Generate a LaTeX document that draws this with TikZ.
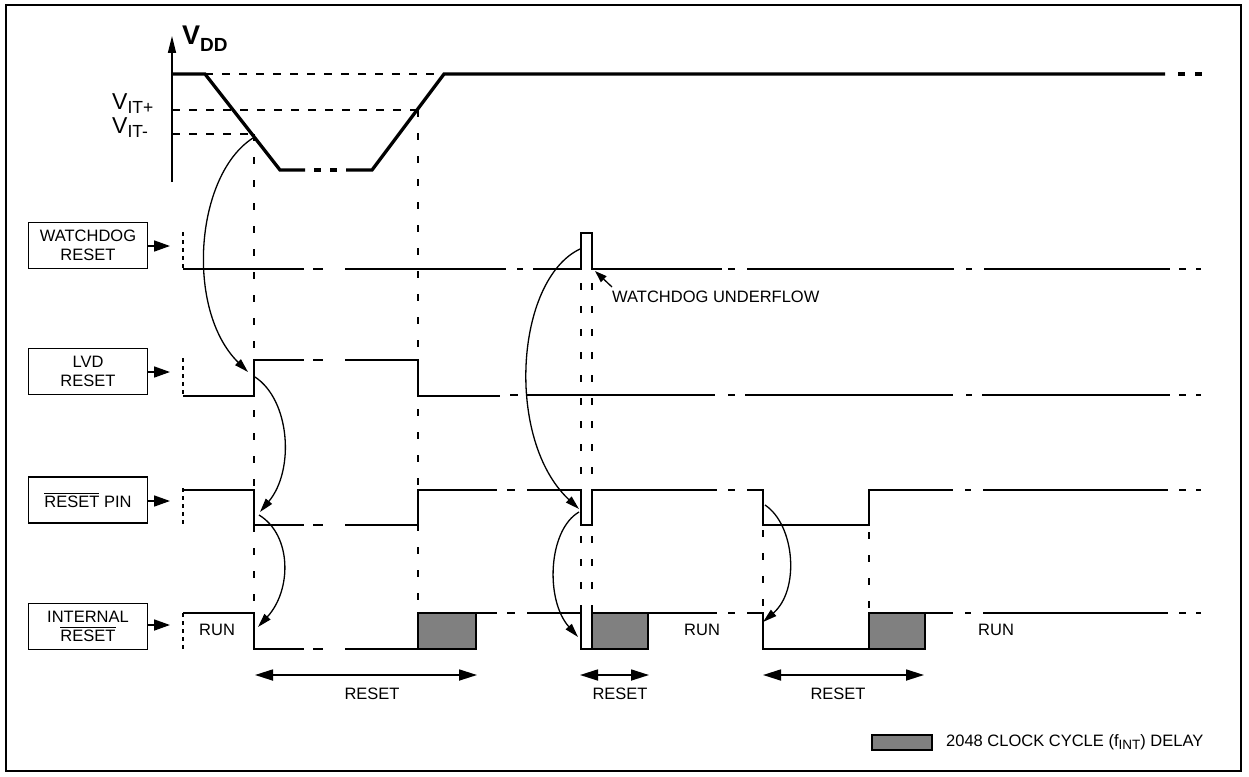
\documentclass[tikz,border=0pt]{standalone}
\usepackage{fontspec}
\setmainfont{Liberation Sans}
\usetikzlibrary{arrows.meta}
\newcommand{\ovlbar}[1]{\leavevmode\vbox{\hrule height 1pt\kern 2pt\hbox{#1}}}
\begin{document}
\begin{tikzpicture}[x=1pt,y=-1pt,
  sig/.style={line width=1.7pt},
  vddline/.style={line width=3.3pt},
  hdash/.style={line width=1.5pt, dash pattern=on 8pt off 9pt},
  vdashed/.style={line width=1.5pt, dash pattern=on 7pt off 16pt},
  dotv/.style={line width=1.4pt, dash pattern=on 3.5pt off 4.5pt},
  lbox/.style={draw, line width=1.7pt, minimum width=119pt, minimum height=46pt, align=center, inner sep=0pt, font=\fontsize{16.5}{18.5}\selectfont},
  inarrow/.style={line width=1.7pt, -{Triangle[length=16pt,width=11pt]}},
  curvearrow/.style={line width=1.3pt, -{Triangle[length=14pt,width=8pt]}},
  dimarrow/.style={line width=1.7pt, {Triangle[length=18pt,width=11pt]}-{Triangle[length=18pt,width=11pt]}},
  txt/.style={font=\fontsize{16.5}{18.5}\selectfont, inner sep=0pt},
  delay/.style={draw, line width=1.7pt, fill=gray},
]
\useasboundingbox (0,0) rectangle (1249,776);
\draw[line width=2pt] (6,5) rectangle (1241,771);

% ---------- VDD axis ----------
\coordinate (ax0) at (172,182);
\coordinate (ax1) at (172,36);
\draw[line width=1.6pt,-{Triangle[length=17pt,width=8pt]}] (ax0) -- (ax1);
\node[anchor=base west, inner sep=0pt] (vddlbl) at (182,45)
  {\fontsize{27}{27}\selectfont\bfseries V\raisebox{-7pt}{\fontsize{19}{19}\selectfont DD}};
\node[anchor=base west, inner sep=0pt] (vitp) at (112,109)
  {\fontsize{23}{23}\selectfont V\raisebox{-4pt}{\fontsize{17.5}{17.5}\selectfont IT+}};
\node[anchor=base west, inner sep=0pt] (vitm) at (112,133)
  {\fontsize{23}{23}\selectfont V\raisebox{-4pt}{\fontsize{17.5}{17.5}\selectfont IT-}};

\draw[hdash] (205,74) -- (444,74);
\draw[hdash] (172,110) -- (418,110);
\draw[hdash] (172,134) -- (254,134);

\draw[vddline, line join=miter] (172,74) -- (205,74) -- (280,170) -- (305,170);
\draw[vddline] (314,170) -- (321,170);
\draw[vddline] (330,170) -- (337,170);
\draw[vddline, line join=miter] (346,170) -- (372,170) -- (444,74) -- (1165,74);
\draw[vddline] (1178,74) -- (1185,74);
\draw[vddline] (1195,74) -- (1202,74);

% ---------- vertical dashed markers ----------
\draw[vdashed] (254,134) -- (254,613);
\draw[vdashed] (418,110) -- (418,613);
\draw[vdashed] (581,283) -- (581,613);
\draw[vdashed] (592,283) -- (592,613);
\draw[vdashed] (763,530) -- (763,613);
\draw[vdashed] (869,532) -- (869,613);

% ---------- label boxes ----------
\node[lbox] (wd) at (88,245.5) {WATCHDOG\\RESET};
\node[lbox] (lvd) at (88,371.5) {LVD\\RESET};
\node[lbox] (rp) at (88,500) {\ovlbar{RESET} PIN};
\node[lbox] (ir) at (88,626.5) {INTERNAL\\\ovlbar{RESET}};

\coordinate (wdin) at (170,246);
\coordinate (lvdin) at (170,372);
\coordinate (rpin) at (170,501);
\coordinate (irin) at (170,625);
\draw[inarrow] (wd.east |- wdin) -- (wdin);
\draw[inarrow] (lvd.east |- lvdin) -- (lvdin);
\draw[inarrow] (rp.east |- rpin) -- (rpin);
\draw[inarrow] (ir.east |- irin) -- (irin);

\draw[dotv] (183,232) -- (183,269);
\draw[dotv] (183,358) -- (183,396);
\draw[dotv] (183,488) -- (183,525);
\draw[dotv] (183,613) -- (183,650);

% ---------- WATCHDOG RESET signal ----------
\draw[sig] (183,269) -- (304,269);
\draw[sig] (313,269) -- (323,269);
\draw[sig] (345,269) -- (506,269);
\draw[sig] (517,269) -- (523,269);
\draw[sig, line join=miter] (533,269) -- (581,269) -- (581,233) -- (592,233) -- (592,269) -- (722,269);
\draw[sig] (728,269) -- (735,269);
\draw[sig] (747,269) -- (954,269);
\draw[sig] (966,269) -- (972,269);
\draw[sig] (984,269) -- (1170,269);
\draw[sig] (1179,269) -- (1186,269);
\draw[sig] (1196,269) -- (1201,269);

\node[txt, anchor=west] (wdu) at (612,297) {WATCHDOG UNDERFLOW};
\coordinate (wdutail) at (612,287);
\coordinate (wdutip) at (595,271);
\draw[line width=1.3pt, -{Triangle[length=12pt,width=8pt]}] (wdutail) -- (wdutip);

% ---------- LVD RESET signal ----------
\draw[sig, line join=miter] (183,396) -- (254,396) -- (254,360) -- (304,360);
\draw[sig] (313,360) -- (323,360);
\draw[sig, line join=miter] (345,360) -- (418,360) -- (418,396) -- (500,396);
\draw[sig] (510,395) -- (518,395);
\draw[sig] (527,395) -- (715,395);
\draw[sig] (728,395) -- (735,395);
\draw[sig] (745,395) -- (953,395);
\draw[sig] (966,395) -- (972,395);
\draw[sig] (982,395) -- (1170,395);
\draw[sig] (1179,395) -- (1186,395);
\draw[sig] (1196,395) -- (1201,395);

% ---------- RESET PIN signal ----------
\draw[sig, line join=miter] (183,490) -- (254,490) -- (254,525) -- (304,525);
\draw[sig] (313,525) -- (323,525);
\draw[sig, line join=miter] (345,525) -- (418,525) -- (418,490) -- (497,490);
\draw[sig] (507,490) -- (515,490);
\draw[sig, line join=miter] (527,490) -- (581,490) -- (581,525) -- (592,525) -- (592,490) -- (717,490);
\draw[sig] (728,490) -- (735,490);
\draw[sig, line join=miter] (747,490) -- (763,490) -- (763,525) -- (869,525) -- (869,490) -- (953,490);
\draw[sig] (965,490) -- (971,490);
\draw[sig] (983,490) -- (1168,490);
\draw[sig] (1179,490) -- (1186,490);
\draw[sig] (1196,490) -- (1201,490);

% ---------- INTERNAL RESET signal ----------
\draw[sig, line join=miter] (183,613) -- (254,613) -- (254,649) -- (304,649);
\draw[sig] (313,649) -- (323,649);
\draw[sig] (345,649) -- (418,649);
\draw[delay] (418,613) rectangle (476,649);
\draw[sig] (476,613) -- (497,613);
\draw[sig] (507,613) -- (515,613);
\draw[sig, line join=miter] (527,613) -- (581,613) -- (581,649) -- (592,649);
\draw[delay] (592,613) rectangle (648,649);
\draw[sig] (648,613) -- (717,613);
\draw[sig] (728,613) -- (735,613);
\draw[sig, line join=miter] (747,613) -- (763,613) -- (763,649) -- (869,649);
\draw[delay] (869,613) rectangle (925,649);
\draw[sig] (925,613) -- (953,613);
\draw[sig] (965,613) -- (971,613);
\draw[sig] (983,613) -- (1168,613);
\draw[sig] (1179,613) -- (1186,613);
\draw[sig] (1196,613) -- (1201,613);

\node[txt, anchor=west] (run1) at (199,630) {RUN};
\node[txt, anchor=west] (run2) at (684,630) {RUN};
\node[txt, anchor=west] (run3) at (978,630) {RUN};

% ---------- causal curved arrows ----------
\coordinate (c1a) at (253,138);  \coordinate (c1b) at (248,372);
\coordinate (c2a) at (255,377);  \coordinate (c2b) at (260,512);
\coordinate (c3a) at (259,515);  \coordinate (c3b) at (258,627);
\coordinate (c4a) at (580,249);  \coordinate (c4b) at (579,509);
\coordinate (c5a) at (579,512);  \coordinate (c5b) at (578,637);
\coordinate (c6a) at (765,505);  \coordinate (c6b) at (763,622);
\draw[curvearrow] (c1a) .. controls (195,175) and (185,310) .. (c1b);
\draw[curvearrow] (c2a) .. controls (290,400) and (295,470) .. (c2b);
\draw[curvearrow] (c3a) .. controls (292,535) and (292,590) .. (c3b);
\draw[curvearrow] (c4a) .. controls (515,280) and (505,440) .. (c4b);
\draw[curvearrow] (c5a) .. controls (548,530) and (545,600) .. (c5b);
\draw[curvearrow] (c6a) .. controls (795,525) and (800,590) .. (c6b);

% ---------- RESET duration arrows ----------
\coordinate (r1a) at (255,675); \coordinate (r1b) at (477,675);
\coordinate (r2a) at (580,675); \coordinate (r2b) at (649,675);
\coordinate (r3a) at (763,675); \coordinate (r3b) at (924,675);
\draw[dimarrow] (r1a) -- (r1b);
\draw[dimarrow] (r2a) -- (r2b);
\draw[dimarrow] (r3a) -- (r3b);
\node[txt] (rl1) at (372,694) {RESET};
\node[txt] (rl2) at (620,694) {RESET};
\node[txt] (rl3) at (838,694) {RESET};

% ---------- legend ----------
\node[delay, minimum width=60pt, minimum height=15pt, inner sep=0pt] (leg) at (902,742.5) {};
\node[txt, anchor=west] (legt) at (946,742)
  {2048 CLOCK CYCLE (f\raisebox{-3.5pt}{\fontsize{13.5}{13.5}\selectfont INT}) DELAY};
\end{tikzpicture}
\end{document}
